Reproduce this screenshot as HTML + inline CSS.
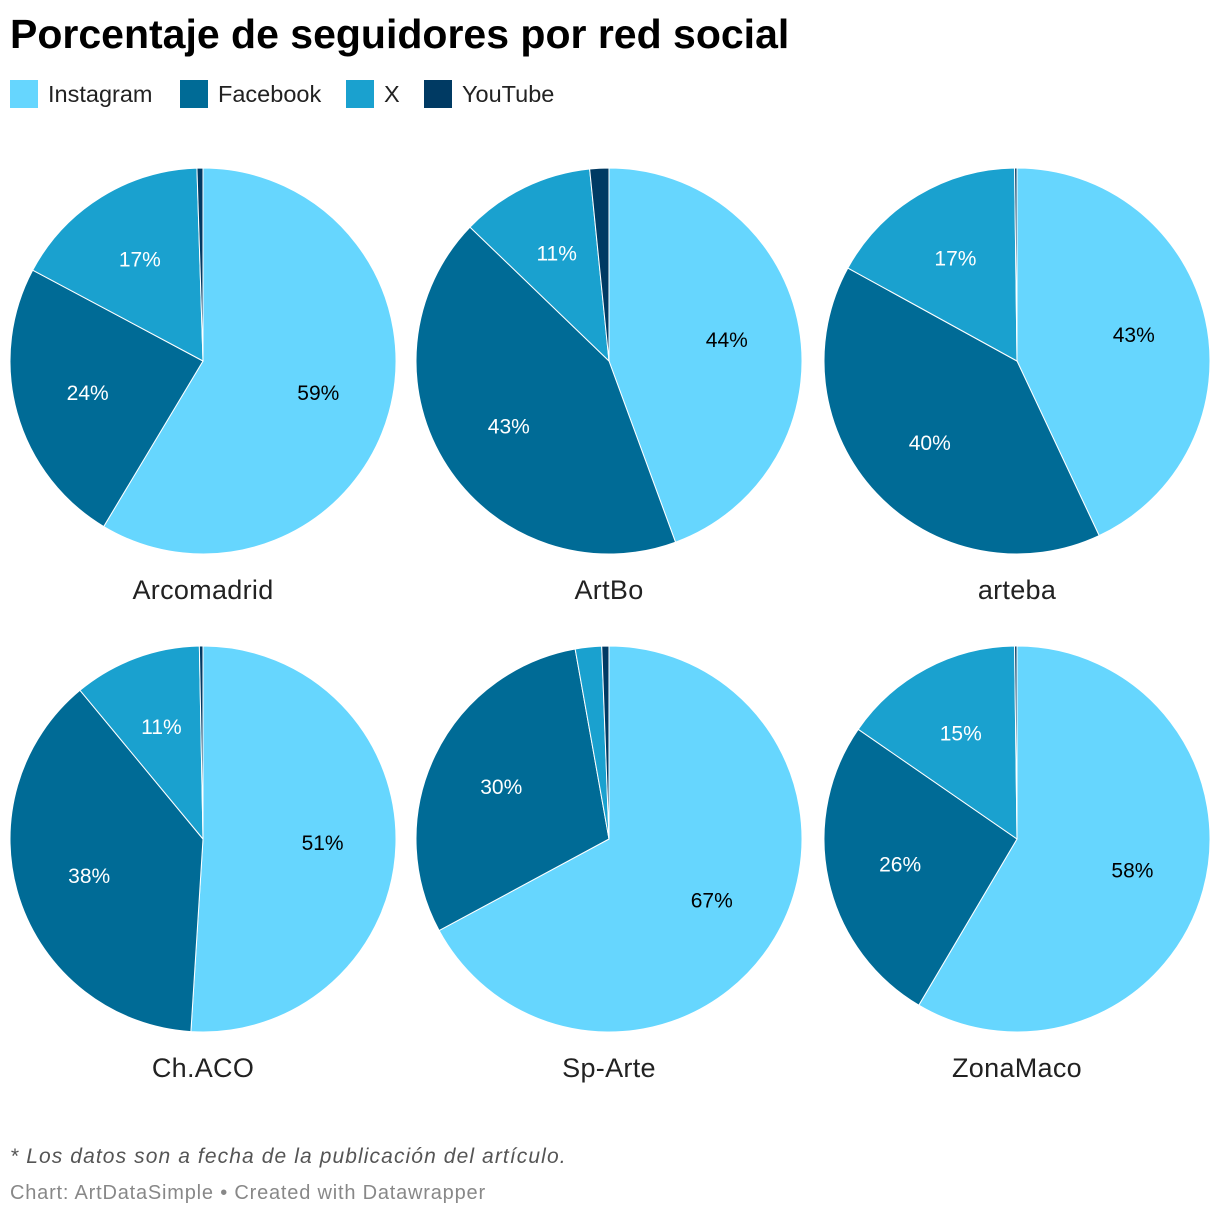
<!DOCTYPE html>
<html><head><meta charset="utf-8"><style>
body{margin:0;background:#fff;width:1220px;height:1218px;overflow:hidden;font-family:"Liberation Sans",sans-serif;}
#title{position:absolute;left:10px;top:11px;font-size:41px;font-weight:bold;color:#000;letter-spacing:0;}
.leg{position:absolute;top:80px;height:28px;font-size:23.5px;color:#222;line-height:28px;}
.leg span{display:inline-block;width:28px;height:28px;vertical-align:top;margin-right:10px;}
#note{position:absolute;left:10px;top:1145px;font-size:21px;letter-spacing:1.1px;font-style:italic;color:#555;}
#credit{position:absolute;left:10px;top:1182px;font-size:20px;letter-spacing:0.8px;color:#888;}
</style></head><body>
<div id="title">Porcentaje de seguidores por red social</div>
<div class="leg" style="left:10px"><span style="background:#66d6fe"></span>Instagram</div>
<div class="leg" style="left:180px"><span style="background:#006b96"></span>Facebook</div>
<div class="leg" style="left:346px"><span style="background:#1aa1cf"></span>X</div>
<div class="leg" style="left:424px"><span style="background:#003a63"></span>YouTube</div>
<svg id="chart" width="1220" height="1218" style="position:absolute;left:0;top:0"></svg>
<div id="note">* Los datos son a fecha de la publicación del artículo.</div>
<div id="credit">Chart: ArtDataSimple • Created with Datawrapper</div>
<script>
const categories=["Arcomadrid","ArtBo","arteba","Ch.ACO","Sp-Arte","ZonaMaco"];
const series=["Instagram","Facebook","X","YouTube"];
const instagram=[58.6,44.4,43,51,67,58.2];
const facebook=[24.2,42.8,40,38,30,26];
const xvals=[16.7,11.2,16.8,10.7,2.2,15.1];
const youtube=[0.5,1.6,0.2,0.3,0.6,0.2];
const colors=["#66d6fe","#006b96","#1aa1cf","#003a63"];
const textCol=["#000","#fff","#fff","#fff"];
const svg=document.getElementById('chart');
const NS="http://www.w3.org/2000/svg";
const R=193, cxs=[203,609,1017], cys=[361,839];
categories.forEach((cat,i)=>{
  const cx=cxs[i%3], cy=cys[Math.floor(i/3)];
  const vals=[instagram[i],facebook[i],xvals[i],youtube[i]];
  const tot=vals.reduce((a,b)=>a+b,0);
  let a0=0;
  const g=document.createElementNS(NS,'g');
  
  
  svg.appendChild(g);
  vals.forEach((v,k)=>{
    const a1=a0+v/tot*2*Math.PI;
    const p=(a)=>[cx+R*Math.sin(a),cy-R*Math.cos(a)];
    const [x0,y0]=p(a0),[x1,y1]=p(a1);
    const path=document.createElementNS(NS,'path');
    path.setAttribute('d',`M${cx},${cy}L${x0},${y0}A${R},${R} 0 ${(a1-a0)>Math.PI?1:0} 1 ${x1},${y1}Z`);
    path.setAttribute('fill',colors[k]);
    path.setAttribute('stroke','#fff');
    path.setAttribute('stroke-width','1');
    
    
    g.appendChild(path);
    if(v/tot>0.05){
      const m=(a0+a1)/2;
      const t=document.createElementNS(NS,'text');
      t.setAttribute('x',cx+0.62*R*Math.sin(m));
      t.setAttribute('y',cy-0.62*R*Math.cos(m)+7);
      t.setAttribute('text-anchor','middle');
      t.setAttribute('font-size','21');
      t.setAttribute('font-family','Liberation Sans, sans-serif');
      t.setAttribute('fill',textCol[k]);
      t.textContent=Math.round(v)+'%';
      
      
      g.appendChild(t);
    }
    a0=a1;
  });
  const lab=document.createElementNS(NS,'text');
  lab.setAttribute('x',cx);
  lab.setAttribute('y',cy+238);
  lab.setAttribute('text-anchor','middle');
  lab.setAttribute('font-size','27');
  lab.setAttribute('letter-spacing','0.3');
  lab.setAttribute('font-family','Liberation Sans, sans-serif');
  lab.setAttribute('fill','#222');
  lab.textContent=cat;
  
  
  svg.appendChild(lab);
});
</script>
</body></html>
